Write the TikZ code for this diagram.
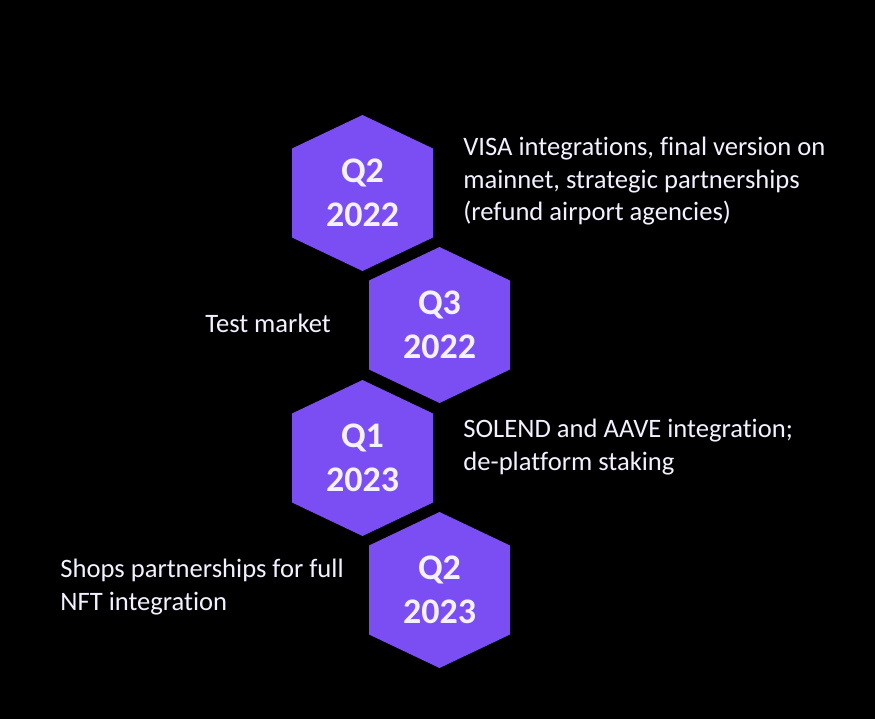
\documentclass[tikz,border=0pt]{standalone}
\usepackage{fontspec}
\setmainfont{Carlito}[Ligatures=NoCommon]
\definecolor{hexpurple}{RGB}{123,78,243}
\definecolor{paletext}{RGB}{244,241,255}
\begin{document}
\begin{tikzpicture}
     [
     x=0.5pt, y=-0.5pt,
     hexball/.style={rectangle, inner sep=0pt, minimum width=70.5pt, minimum height=78pt, align=center, text=paletext, font=\fontsize{18}{22}\selectfont\bfseries, path picture={\fill[hexpurple] (path picture bounding box.north) -- ++(70.5,33.5) -- ++(0,89) -- ++(-70.5,33.5) -- ++(-70.5,-33.5) -- ++(0,-89) -- cycle;}},
     textbox/.style={rectangle, inner sep=0pt, align=left, text=paletext, font=\fontsize{13.3}{16.25}\selectfont},
     ]
  \fill[black] (0,0) rectangle (875,719);
 \node at (362.5,193) [hexball]   (q2a)  {Q2\\2022};
 \node at (439.5,325) [hexball]   (q3a)  {Q3\\2022};
 \node at (362.5,458) [hexball]   (q1b)  {Q1\\2023};
 \node at (439.5,590) [hexball]   (q2b)  {Q2\\2023};
 \node at (463,137) [textbox, anchor=north west] (visa)   {VISA integrations, final version on\\mainnet, strategic partnerships\\(refund airport agencies)};
 \node at (205,332) [textbox, anchor=base west]    (test)   {Test market};
 \node at (463,419) [textbox, anchor=north west] (solend) {SOLEND and AAVE integration;\\de-platform staking};
 \node at (60,559) [textbox, anchor=north west]  (shops)  {Shops partnerships for full\\NFT integration};
 \end{tikzpicture}
\end{document}
